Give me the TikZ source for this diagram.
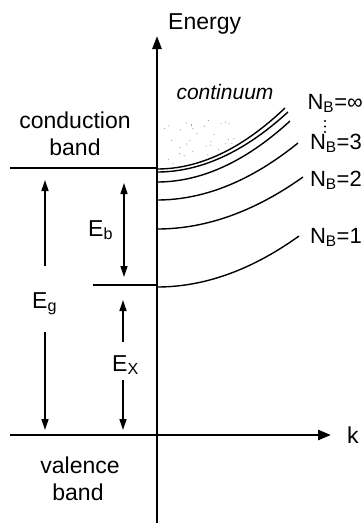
\documentclass[tikz,border=0pt]{standalone}
\usepackage{fontspec}
\setmainfont{Liberation Sans}
\usetikzlibrary{arrows.meta}
\begin{document}
\begin{tikzpicture}[x=1pt,y=-1pt,
  axis/.style={line width=2.6pt},
  bandline/.style={line width=2pt},
  level/.style={line width=1.4pt},
  tip/.style={-{Triangle[length=11pt,width=7pt]}},
  dimarrow/.style={line width=1.3pt,tip},
  lbl/.style={inner sep=0pt,font=\fontsize{23}{28}\selectfont},
  nlbl/.style={inner sep=0pt,font=\fontsize{22}{28}\selectfont}]
\useasboundingbox (0,0) rectangle (363,523);
% coordinates
\coordinate (O) at (157,435);
\coordinate (ytop) at (157,36);
\coordinate (ybot) at (157,523);
\coordinate (xtip) at (331,435);
\coordinate (vbL) at (10,435);
\coordinate (cbL) at (10,168);
\coordinate (cbR) at (157,168);
\coordinate (exL) at (93,285);
\coordinate (exR) at (157,285);
\coordinate (egT) at (45,180);
\coordinate (egU) at (45,266);
\coordinate (egD) at (45,332);
\coordinate (egB) at (45,430);
\coordinate (ebT) at (124,183);
\coordinate (ebB) at (124,277);
\coordinate (exT) at (123,300);
\coordinate (exU) at (123,342);
\coordinate (exD) at (123,380);
\coordinate (exB) at (123,430);
% continuum stipple
\pgfmathsetseed{7}
\foreach \i in {1,...,32}{
  \pgfmathsetmacro\xx{160+75*rnd}
  \pgfmathsetmacro\yc{169-61*((\xx-157)/128)^2}
  \pgfmathsetmacro\yy{118+(\yc-121)*rnd}
  \fill[gray!75] (\xx,\yy) circle (0.6);
}
% axes
\draw[axis,-{Triangle[length=13pt,width=9pt]}] (ybot) -- (ytop);
\draw[axis,-{Triangle[length=13pt,width=10pt]}] (vbL) -- (xtip);
% band lines
\draw[bandline] (cbL) -- (cbR);
\draw[bandline] (exL) -- (exR);
% exciton levels
\foreach \yo/\xe/\ye in {169/285/108, 172/288/112, 182/290/121, 200/298/143, 229/303/177, 287/299/236}{
  \pgfmathsetmacro\dx{\xe-157}
  \draw[level] plot[smooth,samples=40,domain=0:\dx] ({157+\x},{\yo-(\yo-\ye)*(\x/\dx)^2});
}
% dimension arrows
\draw[dimarrow] (egU) -- (egT);
\draw[dimarrow] (egD) -- (egB);
\draw[line width=1.3pt,{Triangle[length=11pt,width=7pt]}-{Triangle[length=11pt,width=7pt]}] (ebT) -- (ebB);
\draw[dimarrow] (exU) -- (exT);
\draw[dimarrow] (exD) -- (exB);
% labels
\node[lbl,anchor=base west] (energy) at (168,29) {Energy};
\node[lbl,font=\fontsize{21}{24}\selectfont\itshape] (cont) at (225,92) {continuum};
\node[lbl,anchor=base] (cb1) at (75,128) {conduction};
\node[lbl,anchor=base] (cb2) at (75,155) {band};
\node[lbl,anchor=base] (vb1) at (80,473) {valence};
\node[lbl,anchor=base] (vb2) at (78,500) {band};
\node[lbl,anchor=base west] (eg) at (32,308) {E\textsubscript{g}};
\node[lbl,anchor=base west] (eb) at (88,236) {E\textsubscript{b}};
\node[lbl,anchor=base west] (ex) at (112,371) {E\textsubscript{X}};
\node[nlbl,anchor=base east] (ninf) at (363,109) {N\textsubscript{B}=∞};
\node[nlbl,anchor=base east] (n3) at (362,149) {N\textsubscript{B}=3};
\node[nlbl,anchor=base east] (n2) at (362,186) {N\textsubscript{B}=2};
\node[nlbl,anchor=base east] (n1) at (362,243) {N\textsubscript{B}=1};
\node[lbl,anchor=base west] (k) at (347,443) {k};
\fill (325,121) circle (1.1) (325,126.5) circle (1.1) (325,132) circle (1.1);
\end{tikzpicture}
\end{document}
